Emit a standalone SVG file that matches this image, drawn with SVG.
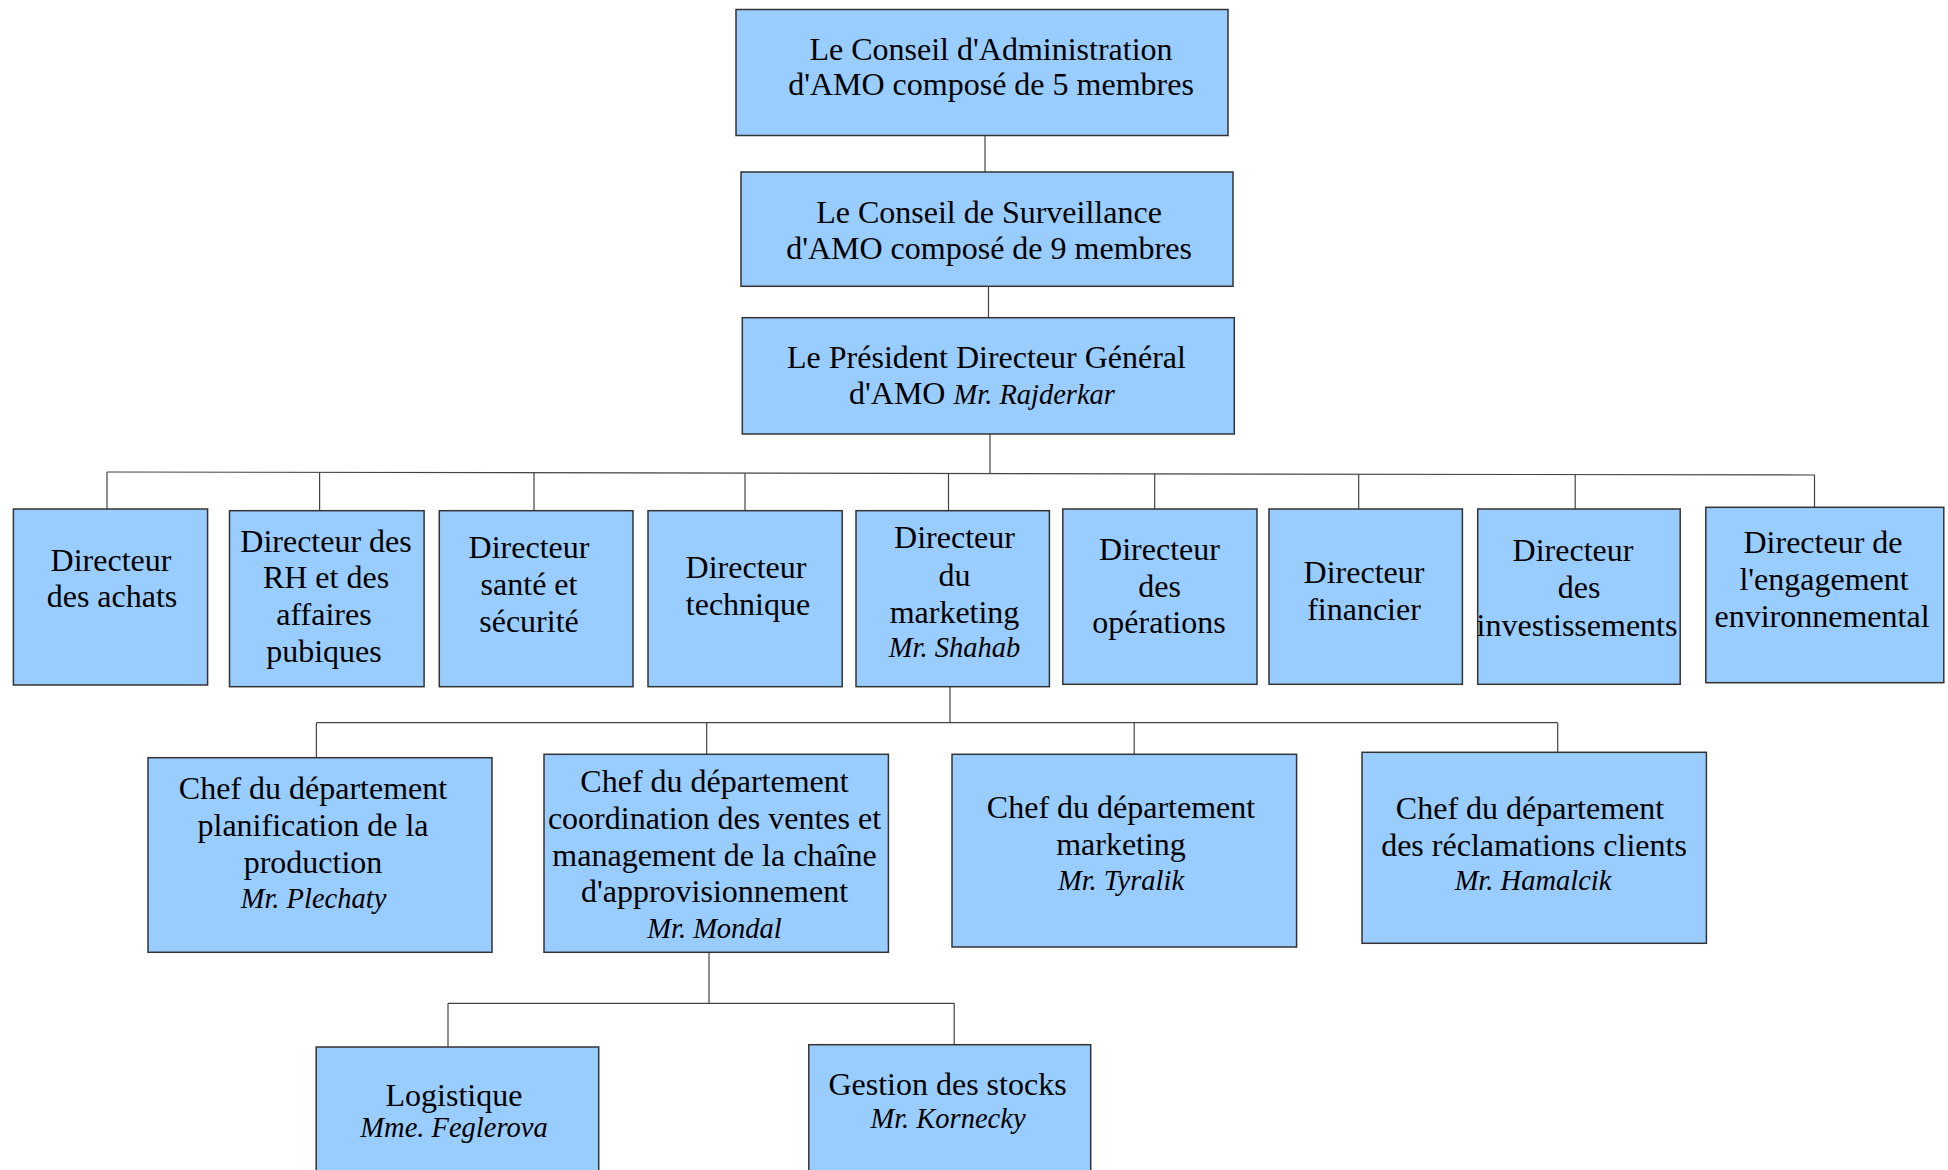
<svg xmlns="http://www.w3.org/2000/svg" width="1948" height="1170" viewBox="0 0 1948 1170">
<style>
.box{fill:#99ccff;stroke:#333;stroke-width:1.5}
.t{font-family:"Liberation Serif","Times New Roman",serif;font-size:32px;fill:#000;text-anchor:middle}
.i{font-style:italic;font-size:28.5px}
.c{stroke:#444;stroke-width:1.2;fill:none}
</style>
<rect width="1948" height="1170" fill="#fff"/>
<g id="connectors">
<line class="c" x1="985" y1="135" x2="985" y2="172"/>
<line class="c" x1="988.5" y1="286" x2="988.5" y2="318"/>
<line class="c" x1="990" y1="434" x2="990" y2="473.5"/>
<line class="c" x1="107" y1="472" x2="1815" y2="475"/>
<line class="c" x1="107" y1="472" x2="107" y2="509"/>
<line class="c" x1="319.6" y1="472.4" x2="319.6" y2="510.7"/>
<line class="c" x1="534" y1="472.7" x2="534" y2="510.7"/>
<line class="c" x1="745" y1="473.1" x2="745" y2="510.7"/>
<line class="c" x1="948.5" y1="473.5" x2="948.5" y2="510.7"/>
<line class="c" x1="1154.7" y1="473.8" x2="1154.7" y2="509"/>
<line class="c" x1="1358.7" y1="474.2" x2="1358.7" y2="509"/>
<line class="c" x1="1575.2" y1="474.6" x2="1575.2" y2="509"/>
<line class="c" x1="1814.5" y1="475" x2="1814.5" y2="507.3"/>
<line class="c" x1="950" y1="686.7" x2="950" y2="722.7"/>
<line class="c" x1="316.4" y1="722.7" x2="1557.7" y2="722.7"/>
<line class="c" x1="316.4" y1="722.7" x2="316.4" y2="757.7"/>
<line class="c" x1="706.7" y1="722.7" x2="706.7" y2="754.3"/>
<line class="c" x1="1134.2" y1="722.7" x2="1134.2" y2="754.3"/>
<line class="c" x1="1557.7" y1="722.7" x2="1557.7" y2="752.3"/>
<line class="c" x1="709" y1="952.3" x2="709" y2="1003.3"/>
<line class="c" x1="448" y1="1003.3" x2="954.2" y2="1003.3"/>
<line class="c" x1="448" y1="1003.3" x2="448" y2="1047"/>
<line class="c" x1="954.2" y1="1003.3" x2="954.2" y2="1044.7"/>
</g>
<g id="conseil-admin">
<rect class="box" x="736" y="9.5" width="492" height="126"/>
<text class="t" x="991" y="59.5">Le Conseil d'Administration</text>
<text class="t" x="991" y="94.5">d'AMO composé de 5 membres</text>
</g>
<g id="conseil-surveillance">
<rect class="box" x="741" y="172" width="492" height="114.3"/>
<text class="t" x="989" y="222.7">Le Conseil de Surveillance</text>
<text class="t" x="989" y="259.3">d'AMO composé de 9 membres</text>
</g>
<g id="pdg">
<rect class="box" x="742.3" y="317.7" width="492" height="116.3"/>
<text class="t" x="986.5" y="367.7">Le Président Directeur Général</text>
<text class="t" x="982" y="404">d'AMO <tspan class="i">Mr. Rajderkar</tspan></text>
</g>
<g id="dir-achats">
<rect class="box" x="13.4" y="509" width="194.2" height="176"/>
<text class="t" x="111" y="571">Directeur</text>
<text class="t" x="112" y="606.7">des achats</text>
</g>
<g id="dir-rh">
<rect class="box" x="229.5" y="510.7" width="194.6" height="176"/>
<text class="t" x="326" y="551.7">Directeur des</text>
<text class="t" x="326" y="588.3">RH et des</text>
<text class="t" x="324" y="625.3">affaires</text>
<text class="t" x="324" y="662.3">pubiques</text>
</g>
<g id="dir-sante">
<rect class="box" x="439.3" y="510.7" width="193.7" height="176"/>
<text class="t" x="529" y="558.3">Directeur</text>
<text class="t" x="529" y="595">santé et</text>
<text class="t" x="529" y="632.3">sécurité</text>
</g>
<g id="dir-technique">
<rect class="box" x="648" y="510.7" width="194.2" height="176"/>
<text class="t" x="746" y="578.3">Directeur</text>
<text class="t" x="748" y="615">technique</text>
</g>
<g id="dir-marketing">
<rect class="box" x="856" y="510.7" width="193.4" height="176"/>
<text class="t" x="954.5" y="548.3">Directeur</text>
<text class="t" x="954.5" y="586">du</text>
<text class="t" x="954.5" y="622.7">marketing</text>
<text class="t i" x="954.5" y="656.7">Mr. Shahab</text>
</g>
<g id="dir-operations">
<rect class="box" x="1062.8" y="509" width="194.2" height="175.3"/>
<text class="t" x="1159.5" y="560">Directeur</text>
<text class="t" x="1159.5" y="596.7">des</text>
<text class="t" x="1159" y="633.3">opérations</text>
</g>
<g id="dir-financier">
<rect class="box" x="1269" y="509" width="193.4" height="175.3"/>
<text class="t" x="1364" y="583.3">Directeur</text>
<text class="t" x="1364" y="620">financier</text>
</g>
<g id="dir-investissements">
<rect class="box" x="1477.7" y="509" width="202.5" height="175.3"/>
<text class="t" x="1573" y="561">Directeur</text>
<text class="t" x="1579" y="598.3">des</text>
<text class="t" x="1577" y="635.7">investissements</text>
</g>
<g id="dir-environnement">
<rect class="box" x="1705.8" y="507.3" width="238" height="175.4"/>
<text class="t" x="1823" y="553.3">Directeur de</text>
<text class="t" x="1824" y="590">l'engagement</text>
<text class="t" x="1822" y="626.7">environnemental</text>
</g>
<g id="chef-planification">
<rect class="box" x="148" y="757.7" width="344" height="194.6"/>
<text class="t" x="313" y="799.3">Chef du département</text>
<text class="t" x="313" y="836">planification de la</text>
<text class="t" x="313" y="873.3">production</text>
<text class="t i" x="313.5" y="908">Mr. Plechaty</text>
</g>
<g id="chef-coordination">
<rect class="box" x="544" y="754.3" width="344.4" height="198"/>
<text class="t" x="714.5" y="791.7">Chef du département</text>
<text class="t" x="714.5" y="829">coordination des ventes et</text>
<text class="t" x="714.5" y="866">management de la chaîne</text>
<text class="t" x="714.5" y="902.3">d'approvisionnement</text>
<text class="t i" x="714.5" y="937.5">Mr. Mondal</text>
</g>
<g id="chef-marketing">
<rect class="box" x="952" y="754.3" width="344.6" height="192.7"/>
<text class="t" x="1121" y="818.3">Chef du département</text>
<text class="t" x="1121" y="855">marketing</text>
<text class="t i" x="1121" y="889.5">Mr. Tyralik</text>
</g>
<g id="chef-reclamations">
<rect class="box" x="1362" y="752.3" width="344.4" height="191"/>
<text class="t" x="1530" y="819.3">Chef du département</text>
<text class="t" x="1534" y="856">des réclamations clients</text>
<text class="t i" x="1533" y="890">Mr. Hamalcik</text>
</g>
<g id="logistique">
<rect class="box" x="316.2" y="1047" width="282.5" height="140"/>
<text class="t" x="454" y="1105.7">Logistique</text>
<text class="t i" x="454" y="1136.7">Mme. Feglerova</text>
</g>
<g id="gestion-stocks">
<rect class="box" x="808.8" y="1044.7" width="281.9" height="140"/>
<text class="t" x="947.5" y="1095">Gestion des stocks</text>
<text class="t i" x="948" y="1128.3">Mr. Kornecky</text>
</g>
</svg>
